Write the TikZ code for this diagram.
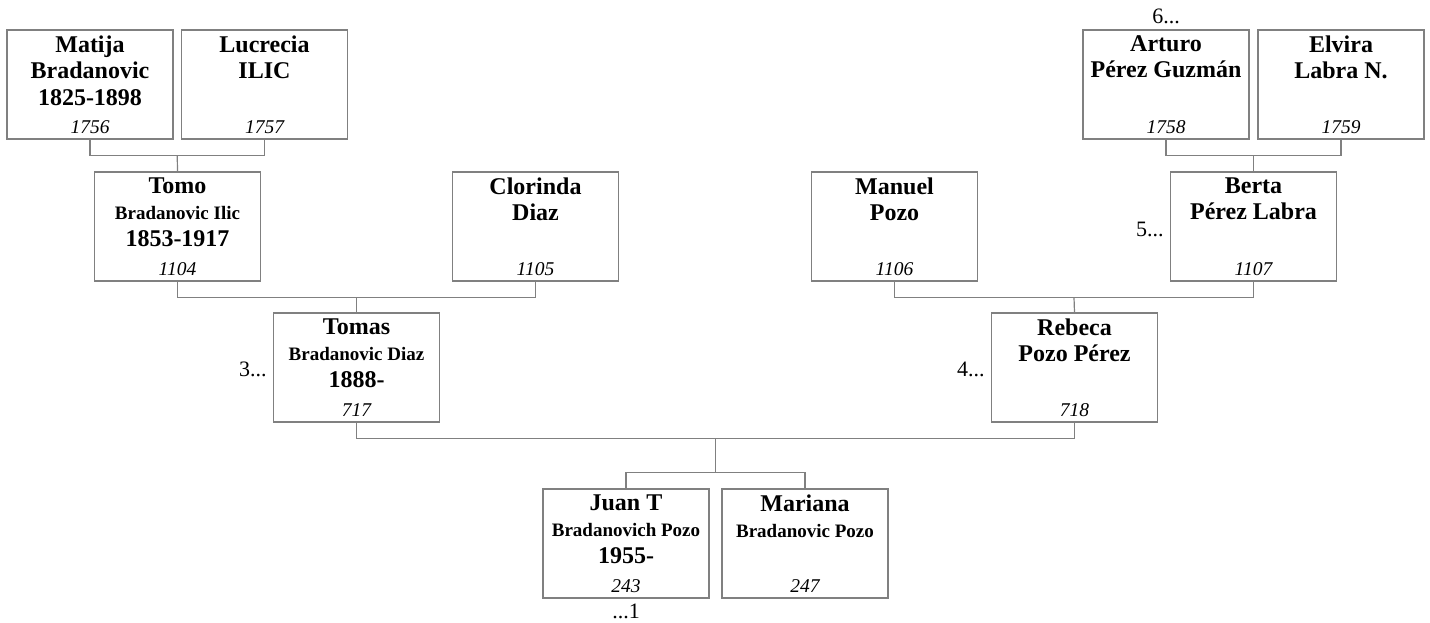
\documentclass[tikz,border=0pt]{standalone}
\usepackage{fontspec}
\setmainfont{Liberation Serif}
\usetikzlibrary{positioning,calc}
\definecolor{linegray}{RGB}{128,128,128}
\newcommand{\subname}[1]{{\fontsize{19}{26.5}\selectfont #1}}

\begin{document}
\begin{tikzpicture}[x=1pt,y=-1pt,
 box/.style={draw=linegray,line width=1.2pt,minimum width=166pt,minimum height=109pt,inner sep=0pt},
 nm/.style={anchor=north,align=center,inner sep=0pt,font=\fontsize{24}{26.5}\selectfont\bfseries,execute at begin node={\rule{0pt}{18pt}}},
 refno/.style={anchor=base,inner sep=0pt,font=\fontsize{19.5}{22}\selectfont\itshape},
 dots/.style={inner sep=0pt,font=\fontsize{22}{24}\selectfont},
 link/.style={draw=linegray,line width=1.2pt}]
\useasboundingbox (0,0) rectangle (1430,623);
% grandparents' parents
\node[box] (matija) at (90,84.5) {};
\node[nm] (matija-n) at ([yshift=-6pt]matija.north) {Matija\\Bradanovic\\1825-1898};
\node[refno] (matija-no) at ([yshift=6pt]matija.south) {1756};
\node[box] (lucrecia) at (264.5,84.5) {};
\node[nm] (lucrecia-n) at ([yshift=-6pt]lucrecia.north) {Lucrecia\\ILIC};
\node[refno] (lucrecia-no) at ([yshift=6pt]lucrecia.south) {1757};
\node[box] (arturo) at (1166,84.5) {};
\node[nm] (arturo-n) at ([yshift=-6pt]arturo.north) {Arturo\\Pérez Guzmán};
\node[refno] (arturo-no) at ([yshift=6pt]arturo.south) {1758};
\node[box] (elvira) at (1341,84.5) {};
\node[nm] (elvira-n) at ([yshift=-6pt]elvira.north) {Elvira\\Labra N.};
\node[refno] (elvira-no) at ([yshift=6pt]elvira.south) {1759};
% grandparents
\node[box] (tomo) at (177.5,226.5) {};
\node[nm] (tomo-n) at ([yshift=-6pt]tomo.north) {Tomo\\\subname{Bradanovic Ilic}\\1853-1917};
\node[refno] (tomo-no) at ([yshift=6pt]tomo.south) {1104};
\node[box] (clorinda) at (535.5,226.5) {};
\node[nm] (clorinda-n) at ([yshift=-6pt]clorinda.north) {Clorinda\\Diaz};
\node[refno] (clorinda-no) at ([yshift=6pt]clorinda.south) {1105};
\node[box] (manuel) at (894.5,226.5) {};
\node[nm] (manuel-n) at ([yshift=-6pt]manuel.north) {Manuel\\Pozo};
\node[refno] (manuel-no) at ([yshift=6pt]manuel.south) {1106};
\node[box] (berta) at (1253.5,226.5) {};
\node[nm] (berta-n) at ([yshift=-6pt]berta.north) {Berta\\Pérez Labra};
\node[refno] (berta-no) at ([yshift=6pt]berta.south) {1107};
% parents
\node[box] (tomas) at (356.5,367.5) {};
\node[nm] (tomas-n) at ([yshift=-6pt]tomas.north) {Tomas\\\subname{Bradanovic Diaz}\\1888-};
\node[refno] (tomas-no) at ([yshift=6pt]tomas.south) {717};
\node[box] (rebeca) at (1074.5,367.5) {};
\node[nm] (rebeca-n) at ([yshift=-6pt]rebeca.north) {Rebeca\\Pozo Pérez};
\node[refno] (rebeca-no) at ([yshift=6pt]rebeca.south) {718};
% children
\node[box] (juan) at (626,543.5) {};
\node[nm] (juan-n) at ([yshift=-6pt]juan.north) {Juan T\\\subname{Bradanovich Pozo}\\1955-};
\node[refno] (juan-no) at ([yshift=6pt]juan.south) {243};
\node[box] (mariana) at (805,543.5) {};
\node[nm] (mariana-n) at ([yshift=-6pt]mariana.north) {Mariana\\\subname{Bradanovic Pozo}};
\node[refno] (mariana-no) at ([yshift=6pt]mariana.south) {247};
% continuation marks
\node[dots,above=5pt of arturo] (arturo-up) {6...};
\node[dots,left=6pt of berta,yshift=-3pt] (berta-up) {5...};
\node[dots,left=6pt of tomas,yshift=-2pt] (tomas-up) {3...};
\node[dots,left=6pt of rebeca,yshift=-2pt] (rebeca-up) {4...};
\node[dots,below=5pt of juan] (juan-down) {...1};
% family links
\draw[link] (matija.south) -- ++(0,16) -| (lucrecia.south);
\coordinate (f1) at ($(matija.south)!.5!(lucrecia.south)+(0,16)$);
\draw[link] (f1) -- (tomo.north);
\draw[link] (arturo.south) -- ++(0,16) -| (elvira.south);
\coordinate (f2) at ($(arturo.south)!.5!(elvira.south)+(0,16)$);
\draw[link] (f2) -- (berta.north);
\draw[link] (tomo.south) -- ++(0,16) -| (clorinda.south);
\coordinate (f3) at ($(tomo.south)!.5!(clorinda.south)+(0,16)$);
\draw[link] (f3) -- (tomas.north);
\draw[link] (manuel.south) -- ++(0,16) -| (berta.south);
\coordinate (f4) at ($(manuel.south)!.5!(berta.south)+(0,16)$);
\draw[link] (f4) -- (rebeca.north);
\draw[link] (tomas.south) -- ++(0,16) -| (rebeca.south);
\coordinate (f5) at ($(tomas.south)!.5!(rebeca.south)+(0,16)$);
\draw[link] (juan.north) -- ++(0,-16) -| (mariana.north);
\coordinate (g5) at ($(juan.north)!.5!(mariana.north)+(0,-16)$);
\draw[link] (f5) -- (g5);
\end{tikzpicture}
\end{document}
